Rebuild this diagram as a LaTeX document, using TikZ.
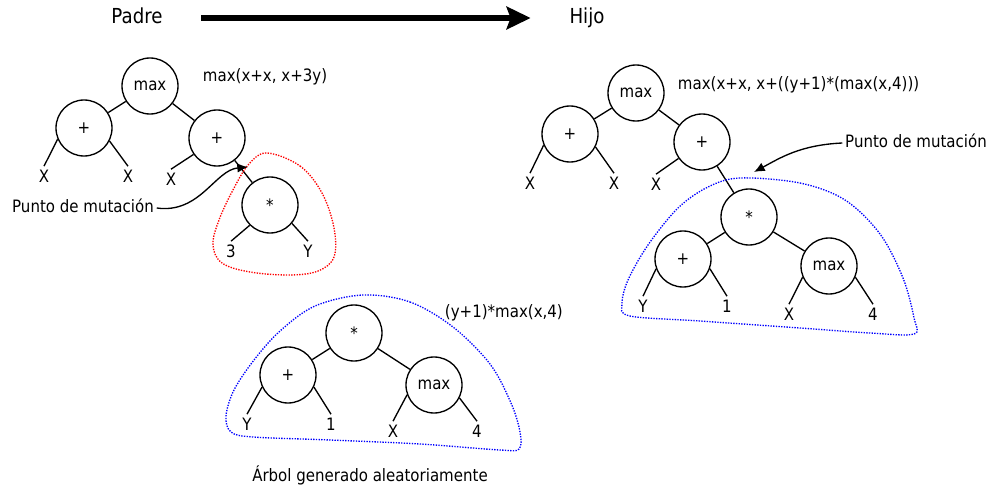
\documentclass[tikz,border=0pt]{standalone}
\usepackage{fontspec}
\setmainfont{DejaVu Sans}[FakeStretch=0.88]
\usetikzlibrary{arrows.meta}
\begin{document}
\begin{tikzpicture}[x=0.75pt,y=-0.75pt,
  op/.style={circle,draw,line width=1pt,minimum size=42pt,inner sep=0pt,font=\fontsize{12.8}{15}\selectfont},
  leaf/.style={inner sep=2.5pt,font=\fontsize{12.8}{15}\selectfont,text height=9.3pt,text depth=0pt},
  lbl/.style={inner sep=2pt,font=\fontsize{12.8}{15}\selectfont,text height=9.8pt,text depth=3pt},
  big/.style={inner sep=2pt,font=\fontsize{15.5}{18}\selectfont,text height=11.5pt,text depth=3.5pt},
  edge/.style={line width=1pt},
  blob/.style={line width=1pt,dash pattern=on 1pt off 1pt},
  callout/.style={line width=1pt,-{Latex[length=8pt,width=7pt]}},
]
\useasboundingbox (0,0) rectangle (992,495);

% ---------- header ----------
\node[big] (padre) at (137,18) {Padre};
\node[big] (hijo) at (587,18) {Hijo};
\draw[line width=3.8pt,-{Stealth[length=18pt,width=17pt,inset=3pt]},shorten <=36pt*0.75,shorten >=36pt*0.75] (padre) -- (hijo);

% ---------- left (parent) tree ----------
\node[op] (Lmax) at (150,86) {max};
\node[op] (Lp1) at (84,128) {+};
\node[op] (Lp2) at (217,138) {+};
\node[op] (Lst) at (270,205) {*};
\node[leaf] (Lx1) at (44,176) {X};
\node[leaf] (Lx2) at (128,176) {X};
\node[leaf] (Lx3) at (171,179) {X};
\node[leaf] (L3) at (231,251) {3};
\node[leaf] (LY) at (308,251) {Y};
\draw[edge] (Lmax) -- (Lp1);
\draw[edge] (Lmax) -- (Lp2);
\draw[edge] (Lp1.203) -- (Lx1.north);
\draw[edge] (Lp1.-27) -- (Lx2.north);
\draw[edge] (Lp2.215) -- (Lx3.north);
\draw[edge] (Lp2) -- (Lst);
\draw[edge] (Lst.225) -- (L3.north);
\draw[edge] (Lst.-40) -- (LY.north);
\node[lbl,anchor=west] (Lform) at (200,77) {max(x+x, x+3y)};

\draw[blob,red] plot[smooth cycle,tension=0.6] coordinates {
  (267,153) (300,166) (322,193) (334,228) (334,257) (318,271) (290,275)
  (250,272) (222,263) (213,245) (219,220) (234,188) (249,164)};

\node[lbl] (Lpunto) at (83,208) {Punto de mutación};
\coordinate (Ltip) at (248,167);
\draw[callout] (Lpunto.east) .. controls (200,214) and (215,170) .. (Ltip);

% ---------- bottom (random) tree ----------
\node[op] (Bst) at (354,333) {*};
\node[op] (Bp) at (288,375) {+};
\node[op] (Bmax) at (434,385) {max};
\node[leaf] (BY) at (247,424) {Y};
\node[leaf] (B1) at (331,424) {1};
\node[leaf] (BX) at (393,431) {X};
\node[leaf] (B4) at (477,431) {4};
\draw[edge] (Bst) -- (Bp);
\draw[edge] (Bst) -- (Bmax);
\draw[edge] (Bp.205) -- (BY.north);
\draw[edge] (Bp.-25) -- (B1.north);
\draw[edge] (Bmax.200) -- (BX.north);
\draw[edge] (Bmax.-27) -- (B4.north);
\node[lbl,anchor=west] (Bform) at (442,313) {(y+1)*max(x,4)};
\node[lbl] (Bcap) at (370,477) {Árbol generado aleatoriamente};

\draw[blob,blue] plot[smooth cycle,tension=0.55] coordinates {
  (363,295) (410,302) (453,327) (490,364) (511,403) (520,432) (519,449)
  (500,450) (420,444) (330,440) (253,437) (231,432) (226,416) (234,390)
  (254,360) (280,331) (315,306)};

% ---------- right (child) tree ----------
\node[op] (Rmax) at (636,93) {max};
\node[op] (Rp1) at (570,134) {+};
\node[op] (Rp2) at (702,142) {+};
\node[op] (Rst) at (749,217) {*};
\node[op] (Rp3) at (683,259) {+};
\node[op] (Rmax2) at (829,266) {max};
\node[leaf] (Rx1) at (530,183) {X};
\node[leaf] (Rx2) at (614,183) {X};
\node[leaf] (Rx3) at (656,184) {X};
\node[leaf] (RY) at (643,306) {Y};
\node[leaf] (R1) at (727,306) {1};
\node[leaf] (RX) at (789,314) {X};
\node[leaf] (R4) at (873,314) {4};
\draw[edge] (Rmax) -- (Rp1);
\draw[edge] (Rmax) -- (Rp2);
\draw[edge] (Rp1.203) -- (Rx1.north);
\draw[edge] (Rp1.-27) -- (Rx2.north);
\draw[edge] (Rp2.215) -- (Rx3.north);
\draw[edge] (Rp2) -- (Rst);
\draw[edge] (Rst) -- (Rp3);
\draw[edge] (Rst) -- (Rmax2);
\draw[edge] (Rp3.200) -- (RY.north);
\draw[edge] (Rp3.-20) -- (R1.north);
\draw[edge] (Rmax2.203) -- (RX.north);
\draw[edge] (Rmax2.-23) -- (R4.north);
\node[lbl,anchor=west] (Rform) at (675,85) {max(x+x, x+((y+1)*(max(x,4)))};

\draw[blob,blue] plot[smooth cycle,tension=0.55] coordinates {
  (740,178) (800,183) (845,200) (880,234) (903,278) (914,318) (914,334)
  (870,333) (800,328) (700,321) (630,316) (622,304) (628,280) (648,245)
  (678,208) (708,187)};

\node[lbl] (Rpunto) at (916,143) {Punto de mutación};
\coordinate (Rtip) at (754,172);
\draw[callout] (Rpunto.west) .. controls (800,145) and (780,158) .. (Rtip);
\end{tikzpicture}
\end{document}
